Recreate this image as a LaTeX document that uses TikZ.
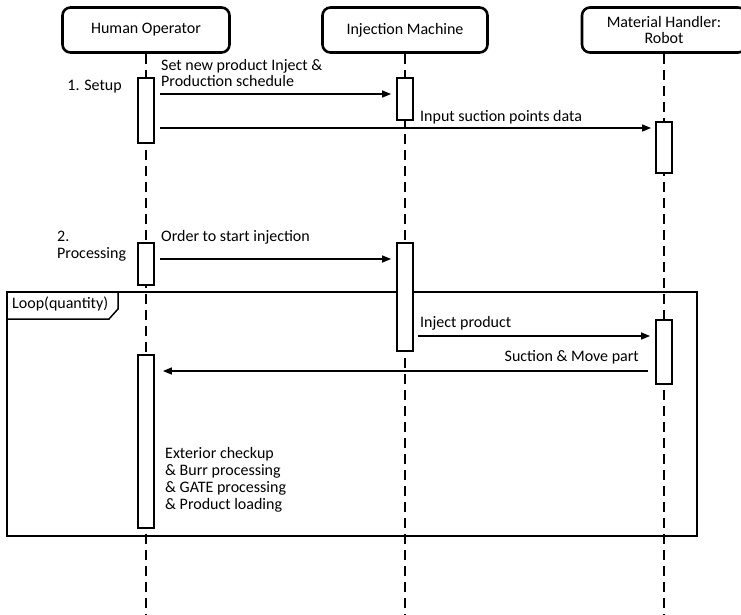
\documentclass[tikz,border=0pt]{standalone}
\usepackage{fontspec}
\setmainfont{Carlito}
\usetikzlibrary{arrows.meta, positioning, calc}

\begin{document}
\begin{tikzpicture}[x=1pt,y=-1pt,line cap=butt,line join=miter,
  every node/.style={font=\fontsize{16}{16.8}\selectfont,inner sep=0pt},
  head/.style={draw,line width=2.6pt,rounded corners=8pt,minimum height=45pt,
    align=center,font=\fontsize{16}{15.5}\selectfont},
  life/.style={line width=2pt,dash pattern=on 10pt off 6pt},
  act/.style={draw,fill=white,line width=1.8pt,minimum width=16pt},
  msg/.style={line width=1.4pt,-{Triangle[length=9pt,width=7pt]}},
  frame/.style={line width=1.5pt},
  lbl/.style={align=left}]
  \useasboundingbox (0,0) rectangle (741,614);
  % ---- lifeline heads ------------------------------------------------------
  \node[head,minimum width=167pt] (ho) at (146,30) {Human Operator};
  \node[head,minimum width=165pt] (im) at (405,30) {Injection Machine};
  \node[head,minimum width=164pt] (rb) at (664,30) {Material Handler:\\Robot};
  \coordinate (hoEnd) at (146,614);
  \coordinate (imEnd) at (405,614);
  \coordinate (rbEnd) at (664,614);
  \draw[life] (ho.south) -- (hoEnd);
  \draw[life] (im.south) -- (imEnd);
  \draw[life] (rb.south) -- (rbEnd);
  % ---- loop frame ----------------------------------------------------------
  \draw[frame] (7,292) rectangle (697,536);
  \draw[frame] (7,319) -- (109,319) -- (118,309) -- (118,292);
  \node[anchor=west] (loop) at (12,304) {Loop(quantity)};
  % ---- activation boxes ----------------------------------------------------
  \node[act,anchor=north,minimum height=65pt]  (a1) at (146,77)  {};
  \node[act,anchor=north,minimum height=42pt]  (a2) at (405,77)  {};
  \node[act,anchor=north,minimum height=51pt]  (a3) at (664,121) {};
  \node[act,anchor=north,minimum height=42pt]  (a4) at (146,242) {};
  \node[act,anchor=north,minimum height=108pt] (a5) at (405,242) {};
  \node[act,anchor=north,minimum height=64pt]  (a6) at (664,319) {};
  \node[act,anchor=north,minimum height=173pt] (a7) at (146,354) {};
  % ---- 1. setup ------------------------------------------------------------
  \node[anchor=east] (setup) at (122,87) {1. Setup};
  \draw[msg] ($(a1.east |- 0,94)+(5,0)$) -- ($(a2.west |- 0,94)+(-5,0)$);
  \node[lbl,anchor=west] (m1) at (161,73) {Set new product Inject \&\\Production schedule};
  \draw[msg] ($(a1.east |- 0,128)+(5,0)$) -- ($(a3.west |- 0,128)+(-4,0)$);
  \node[anchor=west] (m2) at (420,117) {Input suction points data};
  % ---- 2. processing -------------------------------------------------------
  \node[lbl,anchor=west] (proc) at (57,246.5) {2.\\Processing};
  \draw[msg] ($(a4.east |- 0,259)+(5,0)$) -- ($(a5.west |- 0,259)+(-5,0)$);
  \node[anchor=west] (m3) at (161,237) {Order to start injection};
  \draw[msg] ($(a5.east |- 0,336)+(4,0)$) -- ($(a6.west |- 0,336)+(-5,0)$);
  \node[anchor=west] (m4) at (420,323) {Inject product};
  \draw[msg] ($(a6.west |- 0,371)+(-7,0)$) -- ($(a7.east |- 0,371)+(8,0)$);
  \node[anchor=east] (m5) at (639,357) {Suction \& Move part};
  \node[lbl,anchor=west] (chk) at (165,480) {Exterior checkup\\\& Burr processing\\\& GATE processing\\\& Product loading};
\end{tikzpicture}
\end{document}
